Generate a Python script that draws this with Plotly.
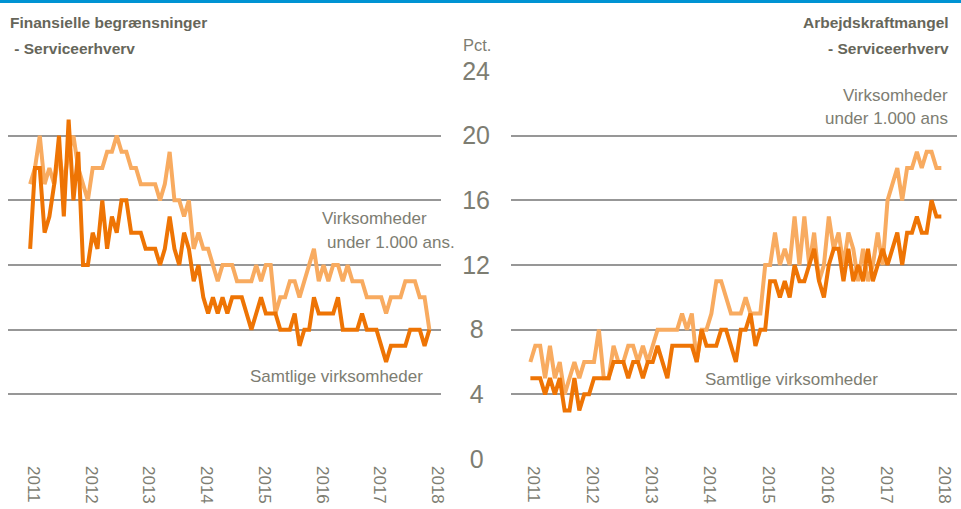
"""Two-panel line chart: financial constraints vs. labour shortage, service industries."""

import plotly.graph_objects as go

YEARS = ["2011", "2012", "2013", "2014", "2015", "2016", "2017", "2018"]
Y_TICKS = [0, 4, 8, 12, 16, 20, 24]

# Finansielle begrænsninger (monthly, Jan 2011 ->)
fin_all = [
    13, 18, 18, 14, 15, 17, 20, 15, 21, 16,
    19, 12, 12, 14, 13, 16, 13, 15, 14, 16,
    16, 14, 14, 14, 13, 13, 13, 12, 13, 15,
    13, 12, 14, 13, 11, 12, 10, 9, 10, 9,
    10, 9, 10, 10, 10, 9, 8, 9, 10, 9,
    9, 9, 8, 8, 8, 9, 7, 8, 8, 10,
    9, 9, 9, 9, 10, 8, 8, 8, 8, 9,
    8, 8, 8, 7, 6, 7, 7, 7, 7, 8,
    8, 8, 7, 8,
]
fin_small = [
    17, 18, 20, 17, 18, 17, 19, 17, 19, 20,
    18, 17, 16, 18, 18, 18, 19, 19, 20, 19,
    19, 18, 18, 17, 17, 17, 17, 16, 17, 19,
    16, 16, 15, 16, 13, 14, 13, 13, 12, 11,
    12, 12, 12, 11, 11, 11, 11, 12, 11, 12,
    12, 9, 10, 10, 11, 11, 10, 11, 12, 13,
    11, 12, 11, 12, 12, 11, 12, 11, 11, 11,
    10, 10, 10, 10, 9, 10, 10, 10, 11, 11,
    11, 10, 10, 8,
]

# Arbejdskraftmangel (monthly, Jan 2011 ->)
lab_all = [
    5, 5, 5, 4, 5, 4, 5, 3, 3, 5,
    3, 4, 4, 5, 5, 5, 5, 6, 6, 6,
    5, 6, 6, 5, 6, 6, 7, 6, 5, 7,
    7, 7, 7, 7, 6, 8, 7, 7, 7, 8,
    8, 7, 6, 8, 8, 9, 7, 8, 8, 11,
    11, 10, 11, 10, 12, 11, 11, 12, 13, 11,
    10, 12, 13, 13, 11, 13, 11, 12, 11, 13,
    11, 12, 13, 12, 13, 14, 12, 14, 14, 15,
    14, 14, 16, 15, 15,
]
lab_small = [
    6, 7, 7, 5, 7, 5, 6, 4, 5, 6,
    5, 6, 6, 6, 8, 5, 5, 7, 6, 6,
    7, 7, 6, 7, 6, 7, 8, 8, 8, 8,
    8, 9, 8, 9, 6, 8, 8, 9, 11, 11,
    10, 9, 9, 9, 10, 9, 9, 9, 12, 12,
    14, 12, 13, 12, 15, 12, 15, 12, 14, 11,
    12, 15, 13, 14, 12, 14, 13, 11, 13, 11,
    12, 14, 12, 16, 17, 18, 16, 18, 18, 19,
    18, 19, 19, 18, 18,
]

DARK = "#EE7404"
LIGHT = "#F8AB60"
GRID = "#979797"
TEXT = "#7D7D72"
TITLE = "#66665A"
FONT = "Liberation Sans Narrow, Arial Narrow, Liberation Sans, Arial, sans-serif"

W, H = 961, 509          # target picture size
FIG_W = 969              # the page comes out squeezed horizontally by ~961/969
TOP, BOTTOM = 71, 459


def px(x):
    return x / W


def py(y):
    return (BOTTOM - y) / (BOTTOM - TOP)


fig = go.Figure()
fig.add_scatter(x=list(range(len(fin_small))), y=fin_small, mode="lines",
                line={"color": LIGHT, "width": 4}, xaxis="x", yaxis="y")
fig.add_scatter(x=list(range(len(fin_all))), y=fin_all, mode="lines",
                line={"color": DARK, "width": 4}, xaxis="x", yaxis="y")
fig.add_scatter(x=list(range(len(lab_small))), y=lab_small, mode="lines",
                line={"color": LIGHT, "width": 4}, xaxis="x2", yaxis="y2")
fig.add_scatter(x=list(range(len(lab_all))), y=lab_all, mode="lines",
                line={"color": DARK, "width": 4}, xaxis="x2", yaxis="y2")

# year labels sit a little after the January point
xcommon = dict(
    tickvals=[12 * i + 0.7 for i in range(len(YEARS))], ticktext=YEARS, tickangle=90,
    showgrid=False, zeroline=False, showline=False, ticks="", ticklabelstandoff=6,
    tickfont={"size": 17, "color": TEXT, "family": FONT},
)
ytext = [f"{v}" if v >= 10 else f"{v}\u2005" for v in Y_TICKS]

fig.update_layout(
    width=FIG_W, height=H, autosize=False,
    margin={"l": 0, "r": 0, "t": TOP, "b": H - BOTTOM},
    paper_bgcolor="white", plot_bgcolor="white",
    showlegend=False,
    font={"family": FONT, "color": TEXT},
    xaxis={**xcommon, "domain": [px(8), px(440)], "range": [-4.6, 85.4]},
    xaxis2={**xcommon, "domain": [px(510), px(955)], "range": [-3.95, 87.2]},
    yaxis={"range": [0, 24], "tickvals": Y_TICKS, "ticktext": ytext,
           "anchor": "free", "position": px(489), "showline": False, "zeroline": False,
           "gridcolor": GRID, "gridwidth": 2, "ticks": "",
           "tickfont": {"size": 25, "color": TEXT, "family": FONT}},
    yaxis2={"range": [0, 24], "tickvals": Y_TICKS, "anchor": "x2", "showticklabels": False,
            "showline": False, "zeroline": False, "gridcolor": GRID, "gridwidth": 2, "ticks": ""},
)

# blue rule across the top
fig.add_shape(type="rect", xref="paper", yref="paper", x0=0, x1=1, y0=py(3), y1=py(0),
              fillcolor="#0093D3", line={"width": 0})

notes = [
    ("<b>Finansielle begrænsninger</b>", 8, 22, "left", 15.5, TITLE),
    ("<b> - Serviceerhverv</b>", 8, 48, "left", 15.5, TITLE),
    ("<b>Arbejdskraftmangel</b>", 949, 22, "right", 15.5, TITLE),
    ("<b>- Serviceerhverv</b>", 949, 48, "right", 15.5, TITLE),
    ("Pct.", 476, 45, "center", 16.5, TEXT),
    ("Virksomheder", 319, 218, "left", 17, TEXT),
    ("under 1.000 ans.", 324, 242, "left", 17, TEXT),
    ("Samtlige virksomheder", 247, 376, "left", 17, TEXT),
    ("Virksomheder", 948, 95, "right", 17, TEXT),
    ("under 1.000 ans", 948, 118, "right", 17, TEXT),
    ("Samtlige virksomheder", 702, 379, "left", 17, TEXT),
]
for text, x, y, anchor, size, color in notes:
    fig.add_annotation(text=text, x=px(x), y=py(y), xref="paper", yref="paper",
                       xanchor=anchor, yanchor="middle", showarrow=False,
                       font={"size": size, "color": color, "family": FONT})

fig.write_html(
    "out.html",
    config={"displayModeBar": False, "responsive": False},
    post_script="document.body.style.margin = '0'; document.body.style.overflow = 'hidden';",
)
